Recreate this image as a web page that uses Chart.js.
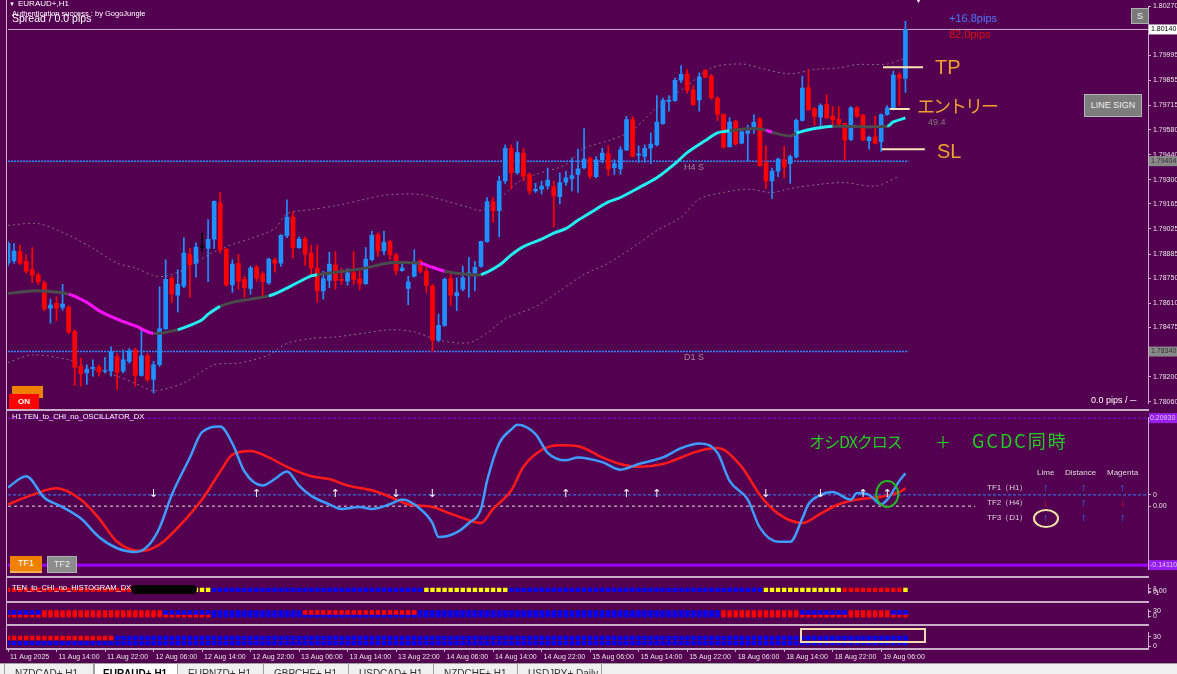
<!DOCTYPE html>
<html><head><meta charset="utf-8">
<script src="https://cdn.jsdelivr.net/npm/chart.js@4.4.1/dist/chart.umd.min.js"></script>
<style>
*{box-sizing:border-box}
html,body{margin:0;padding:0;width:1177px;height:674px;overflow:hidden;background:#540050;font-family:'Liberation Sans','DejaVu Sans',sans-serif;color:#fff}
canvas{position:absolute;left:0}
.t{position:absolute;white-space:nowrap;line-height:1}
.ln{position:absolute;background:#c9aec9}
.btn{position:absolute;display:flex;align-items:center;justify-content:center;line-height:1}
.jp{font-family:'Noto Sans CJK JP','Noto Sans',sans-serif}
.tab{position:absolute;top:664px;height:10px;border-right:1px solid #a0a0a0;font-size:10px;color:#333;padding-left:10px;padding-top:5px;overflow:hidden;white-space:nowrap;line-height:1}
</style></head><body>
<canvas id="cMain" width="1177" height="410" style="top:0"></canvas>
<canvas id="cOsc" width="1177" height="165" style="top:411px"></canvas>
<canvas id="cH1" width="1177" height="22" style="top:578px"></canvas>
<canvas id="cH2" width="1177" height="21" style="top:603px"></canvas>
<canvas id="cH3" width="1177" height="37" style="top:626px"></canvas>

<!-- panel separators / frame -->
<div class="ln" style="left:7px;top:409px;width:1142px;height:2px"></div>
<div class="ln" style="left:7px;top:576px;width:1142px;height:2px"></div>
<div class="ln" style="left:7px;top:601px;width:1142px;height:2px"></div>
<div class="ln" style="left:7px;top:624px;width:1142px;height:2px"></div>
<div class="ln" style="left:6px;top:0;width:1px;height:650px"></div>

<!-- titles -->
<div class="t" style="left:9px;top:1px;font-size:6px">▼</div>
<div class="t" style="left:18px;top:0px;font-size:8px">EURAUD+,H1</div>
<div class="t" style="left:12px;top:10px;font-size:7.5px">Authentication success : by GogoJungle</div>
<div class="t" style="left:12px;top:13px;font-size:10.5px">Spread / 0.0 pips</div>
<div class="t" style="left:915px;top:-3px;font-size:7px">▼</div>

<!-- trade annotations -->
<div class="t" style="left:949px;top:13px;font-size:11px;color:#4a78ff">+16.8pips</div>
<div class="t" style="left:949px;top:29px;font-size:11px;color:#e01010">82.0pips</div>
<div class="t" style="left:935px;top:57px;font-size:20px;color:#f0a030">TP</div>
<div class="t jp" style="left:917px;top:96px;font-size:18px;color:#f0a030;letter-spacing:-2px">エントリー</div>
<div class="t" style="left:937px;top:141px;font-size:20px;color:#f0a030">SL</div>
<div class="t" style="left:928px;top:118px;font-size:9px;color:#7e7e7e">49.4</div>
<div class="t" style="left:1091px;top:396px;font-size:9px">0.0 pips / ─</div>

<!-- buttons -->
<div class="btn" style="left:1131px;top:8px;width:18px;height:16px;background:#7a7a7a;border:1px solid #b0b0b0;font-size:9px;color:#eee">S</div>
<div class="btn" style="left:1084px;top:94px;width:58px;height:23px;background:#7d7d7d;border:1px solid #b5b5b5;font-size:9px;color:#eee">LINE SIGN</div>
<div class="btn" style="left:12px;top:386px;width:31px;height:12px;background:#f08000"></div>
<div class="btn" style="left:9px;top:394px;width:30px;height:15px;background:#ff0000;font-size:8px;font-weight:bold;color:#fff">ON</div>

<!-- oscillator texts -->
<div class="t" style="left:12px;top:413px;font-size:7.5px">H1 TEN_to_CHI_no_OSCILLATOR_DX</div>
<div class="t jp" style="left:809px;top:433px;font-size:16px;color:#22cc22;letter-spacing:-1px">オシDXクロス</div>
<div class="t jp" style="left:935px;top:433px;font-size:16px;color:#22cc22">＋</div>
<div class="t jp" style="left:972px;top:431px;font-size:18px;color:#22cc22;letter-spacing:2px">GCDC同時</div>
<div class="t" style="left:1037px;top:469px;font-size:8px;color:#ddd">Lime</div>
<div class="t" style="left:1065px;top:469px;font-size:8px;color:#ddd">Distance</div>
<div class="t" style="left:1107px;top:469px;font-size:8px;color:#ddd">Magenta</div>
<div class="t" style="left:987px;top:484px;font-size:8px;color:#ddd">TF1（H1）</div>
<div class="t" style="left:987px;top:499px;font-size:8px;color:#ddd">TF2（H4）</div>
<div class="t" style="left:987px;top:514px;font-size:8px;color:#ddd">TF3（D1）</div>
<div class="t" style="left:1043px;top:482px;font-size:11px;font-weight:bold;color:#2a6cf0">↑</div>
<div class="t" style="left:1081px;top:482px;font-size:11px;font-weight:bold;color:#2a6cf0">↑</div>
<div class="t" style="left:1120px;top:482px;font-size:11px;font-weight:bold;color:#2a6cf0">↑</div>
<div class="t" style="left:1043px;top:497px;font-size:11px;font-weight:bold;color:#e0101e">↓</div>
<div class="t" style="left:1081px;top:497px;font-size:11px;font-weight:bold;color:#2a6cf0">↑</div>
<div class="t" style="left:1120px;top:497px;font-size:11px;font-weight:bold;color:#e0101e">↓</div>
<div class="t" style="left:1043px;top:512px;font-size:11px;font-weight:bold;color:#2a6cf0">↑</div>
<div class="t" style="left:1081px;top:512px;font-size:11px;font-weight:bold;color:#2a6cf0">↑</div>
<div class="t" style="left:1120px;top:512px;font-size:11px;font-weight:bold;color:#2a6cf0">↑</div>
<div style="position:absolute;left:1033px;top:509px;width:26px;height:19px;border:2px solid #f3e3a6;border-radius:50%"></div>
<div class="btn" style="left:10px;top:556px;width:32px;height:17px;background:#f08000;border-bottom:2px solid #ffb050;font-size:9px;color:#fff">TF1</div>
<div class="btn" style="left:47px;top:556px;width:30px;height:17px;background:#8c8c8c;border:1px solid #b0b0b0;font-size:9px;color:#eee">TF2</div>

<!-- histogram texts -->
<div class="t" style="left:12px;top:584px;font-size:7.5px">TEN_to_CHI_no_HISTOGRAM_DX_5</div>
<div style="position:absolute;left:131px;top:585px;width:66px;height:9px;background:#000;border-radius:5px"></div>
<div style="position:absolute;left:800px;top:628px;width:126px;height:15px;border:2px solid #f0dcae"></div>

<!-- tab bar -->
<div style="position:absolute;left:0;top:663px;width:1177px;height:11px;background:#f0f0f0;border-top:1px solid #a0a0a0"></div>
<div class="tab" style="left:4px;width:90px;border-left:1px solid #a0a0a0">NZDCAD+,H1</div>
<div class="tab" style="left:94px;top:663px;width:84px;height:11px;background:#fff;border:1px solid #a0a0a0;border-bottom:none;font-weight:bold;color:#000;padding-left:8px">EURAUD+,H1</div>
<div class="tab" style="left:178px;width:86px">EURNZD+,H1</div>
<div class="tab" style="left:264px;width:85px">GBPCHF+,H1</div>
<div class="tab" style="left:349px;width:85px">USDCAD+,H1</div>
<div class="tab" style="left:434px;width:84px">NZDCHF+,H1</div>
<div class="tab" style="left:518px;width:84px">USDJPY+,Daily</div>

<script>
// ---------------- DATA ----------------
const timeTickIdx = [0,8,16,24,32,40,48,56,64,72,80,88,96,104,112,120,128,136,144];
const timeTickLabels = ['11 Aug 2025','11 Aug 14:00','11 Aug 22:00','12 Aug 06:00','12 Aug 14:00','12 Aug 22:00','13 Aug 06:00','13 Aug 14:00','13 Aug 22:00','14 Aug 06:00','14 Aug 14:00','14 Aug 22:00','15 Aug 06:00','15 Aug 14:00','15 Aug 22:00','18 Aug 06:00','18 Aug 14:00','18 Aug 22:00','19 Aug 06:00'];
const priceTicks = [1.80270,1.79995,1.79855,1.79715,1.79580,1.79440,1.79300,1.79165,1.79025,1.78885,1.78750,1.78610,1.78475,1.78200,1.78060];

const opens = [1.78834,1.78847,1.78899,1.78844,1.78798,1.78767,1.78724,1.78583,1.78609,1.78587,
1.78587,1.78453,1.78257,1.78220,1.78246,1.78253,1.78230,1.78230,1.78312,1.78230,
1.78285,1.78349,1.78206,1.78316,1.78184,1.78266,1.78468,1.78748,1.78655,1.78706,
1.78884,1.78834,1.78924,1.78917,1.78968,1.79170,1.78912,1.78712,1.78831,1.78743,
1.78693,1.78811,1.78774,1.78724,1.78853,1.78834,1.78987,1.79091,1.78921,1.78968,
1.78890,1.78807,1.78679,1.78737,1.78825,1.78743,1.78734,1.78780,1.78747,1.78719,
1.78853,1.78994,1.78902,1.78954,1.78880,1.78792,1.78693,1.78761,1.78847,1.78789,
1.78706,1.78404,1.78486,1.78748,1.78651,1.78688,1.78770,1.78780,1.78816,1.78954,
1.79177,1.79128,1.79293,1.79476,1.79339,1.79449,1.79330,1.79238,1.79247,1.79265,
1.79262,1.79205,1.79287,1.79306,1.79330,1.79366,1.79421,1.79317,1.79412,1.79445,
1.79368,1.79361,1.79467,1.79636,1.79438,1.79430,1.79476,1.79495,1.79614,1.79738,
1.79742,1.79856,1.79892,1.79801,1.79746,1.79911,1.79880,1.79757,1.79665,1.79485,
1.79627,1.79504,1.79559,1.79586,1.79641,1.79394,1.79293,1.79348,1.79412,1.79390,
1.79427,1.79632,1.79815,1.79696,1.79650,1.79720,1.79654,1.79638,1.79614,1.79526,
1.79702,1.79661,1.79518,1.79540,1.79513,1.79665,1.79696,1.79885,1.79867];
const highs = [1.78956,1.78944,1.78935,1.78880,1.78921,1.78780,1.78734,1.78633,1.78646,1.78715,
1.78596,1.78462,1.78303,1.78266,1.78294,1.78266,1.78308,1.78367,1.78330,1.78349,
1.78358,1.78358,1.78468,1.78330,1.78285,1.78701,1.78853,1.78761,1.78798,1.78976,
1.78917,1.78948,1.79003,1.79077,1.79183,1.79229,1.78917,1.78853,1.78884,1.78761,
1.78816,1.78822,1.78785,1.78862,1.78862,1.78994,1.79188,1.79119,1.78981,1.78981,
1.78935,1.78935,1.78789,1.78895,1.78899,1.78803,1.78803,1.78899,1.78789,1.78921,
1.79012,1.79005,1.79012,1.78963,1.78890,1.78844,1.78761,1.78908,1.78853,1.78829,
1.78715,1.78550,1.78752,1.78789,1.78752,1.78816,1.78866,1.78844,1.78957,1.79201,
1.79201,1.79320,1.79495,1.79495,1.79513,1.79476,1.79339,1.79280,1.79293,1.79366,
1.79293,1.79339,1.79348,1.79421,1.79471,1.79586,1.79427,1.79430,1.79476,1.79489,
1.79412,1.79485,1.79654,1.79654,1.79489,1.79495,1.79562,1.79770,1.79757,1.79770,
1.79870,1.79938,1.79916,1.79825,1.79898,1.79916,1.79889,1.79764,1.79669,1.79647,
1.79632,1.79573,1.79605,1.79665,1.79647,1.79489,1.79366,1.79421,1.79485,1.79440,
1.79641,1.79880,1.79916,1.79705,1.79724,1.79775,1.79709,1.79709,1.79617,1.79709,
1.79709,1.79665,1.79544,1.79654,1.79669,1.79715,1.79907,1.79898,1.80186];
const lows = [1.78818,1.78834,1.78825,1.78780,1.78725,1.78715,1.78569,1.78499,1.78514,1.78571,
1.78440,1.78151,1.78147,1.78156,1.78202,1.78202,1.78220,1.78202,1.78129,1.78220,
1.78275,1.78147,1.78202,1.78175,1.78107,1.78257,1.78462,1.78615,1.78560,1.78697,
1.78642,1.78756,1.78899,1.78730,1.78917,1.78890,1.78706,1.78670,1.78688,1.78642,
1.78660,1.78734,1.78651,1.78715,1.78785,1.78816,1.78976,1.78862,1.78917,1.78822,
1.78761,1.78615,1.78633,1.78697,1.78688,1.78715,1.78710,1.78715,1.78684,1.78715,
1.78847,1.78871,1.78880,1.78853,1.78770,1.78789,1.78602,1.78756,1.78780,1.78670,
1.78340,1.78395,1.78481,1.78596,1.78569,1.78679,1.78642,1.78679,1.78811,1.78950,
1.79064,1.78981,1.79280,1.79247,1.79330,1.79293,1.79220,1.79229,1.79220,1.79247,
1.79036,1.79165,1.79269,1.79238,1.79229,1.79361,1.79306,1.79311,1.79394,1.79324,
1.79330,1.79330,1.79463,1.79427,1.79397,1.79397,1.79390,1.79489,1.79610,1.79683,
1.79738,1.79843,1.79782,1.79715,1.79683,1.79870,1.79751,1.79632,1.79476,1.79482,
1.79495,1.79500,1.79403,1.79559,1.79375,1.79251,1.79196,1.79317,1.79311,1.79280,
1.79421,1.79628,1.79687,1.79605,1.79599,1.79641,1.79595,1.79599,1.79412,1.79518,
1.79650,1.79518,1.79471,1.79500,1.79458,1.79660,1.79691,1.79715,1.79788];
const closes = [1.78945,1.78902,1.78834,1.78789,1.78765,1.78730,1.78578,1.78600,1.78583,1.78605,
1.78450,1.78253,1.78217,1.78242,1.78252,1.78226,1.78231,1.78340,1.78224,1.78294,
1.78345,1.78206,1.78316,1.78184,1.78266,1.78468,1.78743,1.78660,1.78715,1.78890,
1.78825,1.78924,1.78924,1.78967,1.79179,1.78908,1.78712,1.78829,1.78734,1.78697,
1.78807,1.78748,1.78730,1.78857,1.78834,1.78990,1.79091,1.78921,1.78968,1.78884,
1.78807,1.78679,1.78748,1.78829,1.78737,1.78737,1.78780,1.78743,1.78719,1.78857,
1.78990,1.78902,1.78950,1.78880,1.78792,1.78807,1.78730,1.78840,1.78789,1.78710,
1.78404,1.78486,1.78743,1.78655,1.78670,1.78752,1.78780,1.78811,1.78954,1.79177,
1.79128,1.79293,1.79476,1.79339,1.79452,1.79320,1.79238,1.79247,1.79265,1.79298,
1.79210,1.79284,1.79311,1.79324,1.79361,1.79416,1.79320,1.79412,1.79449,1.79361,
1.79390,1.79467,1.79636,1.79430,1.79441,1.79476,1.79500,1.79623,1.79742,1.79746,
1.79856,1.79889,1.79801,1.79720,1.79874,1.79874,1.79757,1.79665,1.79482,1.79623,
1.79500,1.79568,1.79573,1.79623,1.79379,1.79293,1.79348,1.79416,1.79372,1.79430,
1.79632,1.79812,1.79691,1.79654,1.79715,1.79647,1.79636,1.79614,1.79522,1.79702,
1.79654,1.79522,1.79537,1.79504,1.79665,1.79702,1.79885,1.79867,1.80140];

// moving average (bar index, value, trend of segment starting there: g grey, m magenta, c cyan)
const maIdx = [0,4,7,10,13,15,18,21,24,28,30,32,33,35,37,40,43,45,48,50,51,54,56,59,62,64,68,70,72,76,78,81,83,85,88,90,92,94,96,99,101,104,107,110,112,115,117,119,123,125,126,129,130,133,136,145,146,148];
const maVal = [1.78664,1.78679,1.78675,1.78661,1.78615,1.78569,1.78521,1.78483,1.78441,1.78462,1.78486,1.78518,1.78549,1.78593,1.78615,1.78633,1.78651,1.78678,1.78730,1.78763,1.78769,1.78783,1.78792,1.78807,1.78831,1.78838,1.78834,1.78811,1.78789,1.78770,1.78770,1.78822,1.78880,1.78926,1.78968,1.79002,1.79027,1.79074,1.79115,1.79176,1.79201,1.79255,1.79311,1.79390,1.79452,1.79519,1.79562,1.79574,1.79586,1.79577,1.79566,1.79544,1.79561,1.79586,1.79599,1.79599,1.79623,1.79646];
const maTrend = 'gggmmmmmgccccgggccccggggggmmggcccccccccccccccccggmggccgccc'.split('');

// envelope bands
const upIdx = [0,5,10,14,18,21,24,26,29,33,36,40,44,46,50,54,59,62,68,72,76,78,81,84,87,92,95,99,103,107,112,116,121,125,129,133,137,140,145,148];
const upVal = [1.79045,1.79055,1.78990,1.78917,1.78834,1.78807,1.78765,1.78761,1.78798,1.78880,1.78926,1.78972,1.79027,1.79110,1.79133,1.79155,1.79192,1.79214,1.79218,1.79183,1.79146,1.79128,1.79192,1.79284,1.79330,1.79385,1.79476,1.79518,1.79577,1.79705,1.79825,1.79925,1.79947,1.79916,1.79892,1.79916,1.79925,1.79944,1.79947,1.79980];
const dnIdx = [0,4,10,14,18,22,24,29,34,38,43,46,50,54,59,63,67,71,76,79,82,87,91,95,99,104,107,111,114,118,122,126,129,134,138,143,147];
const dnVal = [1.78279,1.78321,1.78294,1.78242,1.78202,1.78147,1.78120,1.78165,1.78266,1.78275,1.78321,1.78385,1.78413,1.78422,1.78444,1.78462,1.78450,1.78404,1.78389,1.78444,1.78523,1.78591,1.78679,1.78770,1.78834,1.78944,1.79016,1.79091,1.79192,1.79229,1.79247,1.79229,1.79251,1.79275,1.79284,1.79265,1.79320];

// support levels & trade lines
const levelVals = [1.79404, 1.78340];
const levelNames = ['H4 S', 'D1 S'];
const levelEndIdx = 148.5;
const levelLabelIdx = 111.5;
const bidPrice = 1.80140;
const tradeVals = [1.79929, 1.79696, 1.79471];
const tradeFrom = [144.3, 145.4, 144.1];
const tradeTo = [150.9, 148.7, 151.2];
const axisBoxVals = [1.80140, 1.79404, 1.78340];

// oscillator
const blueIdx = [0,3,6,9,12,15,18,21,23,25,27,30,32,35,37,39,42,44,46,48,50,53,55,58,60,63,65,68,70,71,74,76,78,79,81,83,84,87,89,92,94,98,101,104,108,111,114,117,119,122,124,127,129,131,132,134,136,139,140,142,144,145,147,148];
const blueVal = [0.0441,0.0706,0.0198,-0.0022,-0.0287,-0.0728,-0.0992,-0.1080,-0.0948,-0.0507,0.0265,0.1147,0.1742,0.1874,0.1477,0.0816,0.0485,0.0639,0.0816,0.0485,0.0243,0.0044,-0.0066,-0.0022,-0.0066,0.0044,0.0154,-0.0066,-0.0397,-0.0728,-0.0617,-0.0397,-0.0066,0.0595,0.1477,0.1808,0.1918,0.1698,0.1257,0.1080,0.1147,0.1036,0.0860,0.0992,0.1147,0.1367,0.1477,0.1257,0.0595,0.0154,-0.0507,-0.0838,-0.0838,-0.0287,0.0044,0.0265,0.0331,0.0154,0.0309,0.0265,0.0044,0.0154,0.0595,0.0772];
const redIdx = [0,4,8,12,15,18,22,25,28,32,35,37,40,43,46,50,53,56,60,63,66,70,73,76,78,80,83,85,88,91,94,98,101,104,108,111,114,117,121,124,127,131,134,137,140,144,147,148];
const redVal = [0.0044,0.0265,0.0419,0.0154,-0.0287,-0.0838,-0.1058,-0.0904,-0.0507,0.0154,0.0816,0.1213,0.1301,0.1147,0.0926,0.0706,0.0639,0.0485,0.0375,0.0221,0.0044,-0.0022,-0.0176,-0.0331,-0.0397,-0.0066,0.0375,0.0926,0.1323,0.1433,0.1411,0.1147,0.0992,0.0926,0.0992,0.1147,0.1301,0.1367,0.0926,0.0265,-0.0176,-0.0397,-0.0176,0.0044,0.0154,0.0221,0.0331,0.0419];
const arrowIdx = [24,41,54,64,70,92,102,107,125,134,141,145];
const arrowDir = ['d','u','u','d','d','u','u','u','d','d','u','u'];
const arrowLevel = 0.0287;
const crossIdx = 145, crossVal = 0.0287;
const oscTickVals = [0.0265, 0];
const oscTickLabels = ['0', '0.00'];
const oscZeroA = 0.0265, oscZeroB = 0, oscZeroBEnd = 159.5;
const oscFloor = -0.1389, oscCeil = 0.2073;

// histograms: runs of [colour, count] per row
const h1Runs = [['R',30],['Y',4],['B',35],['Y',14],['B',42],['Y',13],['R',10],['Y',1]];
const h2aRuns = [['B',6],['R',20],['B',23],['R',19],['B',50],['R',13],['B',8],['R',7],['B',3]];
const h2bRuns = [['R',34],['B',84],['R',31]];
const h3aRuns = [['R',18],['B',131]];
const h3bRuns = [['B',149]];

// ---------------- RENDER ----------------
Chart.defaults.font.family = "'Liberation Sans','DejaVu Sans',sans-serif";
const FRAME = '#c9aec9';
const TXT = '#e6e6e6';
const SLOT_MAX = 188;
const hcol = {R:'#ff0000', B:'#0000ff', Y:'#ffff00'};
const trendCol = {g:'#4b4b4b', m:'#ff10ff', c:'#22eef0'};
const expand = runs => runs.flatMap(([c,n]) => Array(n).fill(hcol[c]));
const base = {responsive:false, animation:false, devicePixelRatio:1, events:[],
  plugins:{legend:{display:false}, tooltip:{enabled:false}}};
const xHidden = {type:'linear', min:0, max:SLOT_MAX, display:false, offset:false};
function yAxis(min, max, ticks, labels, extra) {
  return Object.assign({position:'right', min, max, bounds:'data',
    afterFit(s){ s.width = 29; },
    afterBuildTicks(s){ s.ticks = ticks.map(v => ({value:v})); },
    ticks:{color:TXT, font:{size:7}, padding:2, autoSkip:false,
      callback:(v,i) => labels ? labels[i] : Number(v).toFixed(5)},
    grid:{drawOnChartArea:false, tickLength:3, color:FRAME},
    border:{display:true, color:FRAME, width:1}}, extra || {});
}
const hLine = (x0, x1, v, color, width, dash, order) => ({type:'line',
  data:[{x:x0,y:v},{x:x1,y:v}], borderColor:color, borderWidth:width, borderDash:dash || [],
  pointRadius:0, order});

// main price chart
const candleCol = closes.map((c,i) => c > opens[i] ? '#1e90ff' : (c < opens[i] ? '#ff0000' : '#000000'));
const mainMarks = {id:'mainMarks', afterDraw(ch){
  const {ctx, scales:{x, y}} = ch;
  ctx.save();
  ctx.font = "9px 'Liberation Sans'"; ctx.fillStyle = '#9b8a9b'; ctx.textBaseline = 'middle';
  levelVals.forEach((v,k) => ctx.fillText(levelNames[k], x.getPixelForValue(levelLabelIdx), y.getPixelForValue(v) + 6));
  const bg = ['#ffffff','#8a8a8a','#8a8a8a'], fg = ['#000000','#303030','#303030'];
  ctx.font = "7px 'Liberation Sans'";
  axisBoxVals.forEach((v,k) => {
    const py = y.getPixelForValue(v);
    ctx.fillStyle = bg[k]; ctx.fillRect(y.left + 1, py - 5, 28, 10);
    ctx.fillStyle = fg[k]; ctx.fillText(v.toFixed(5), y.left + 3, py);
  });
  ctx.restore();
}};
new Chart(document.getElementById('cMain'), {
  type:'bar',
  data:{datasets:[
    {type:'line', data:upIdx.map((i,k)=>({x:i,y:upVal[k]})), borderColor:'#8d6a8d', borderWidth:1, borderDash:[2,3], pointRadius:0, tension:0.3, order:10},
    {type:'line', data:dnIdx.map((i,k)=>({x:i,y:dnVal[k]})), borderColor:'#8d6a8d', borderWidth:1, borderDash:[2,3], pointRadius:0, tension:0.3, order:10},
    hLine(0, levelEndIdx, levelVals[0], '#2f86ff', 1.5, [2,1], 9),
    hLine(0, levelEndIdx, levelVals[1], '#2f86ff', 1.5, [2,1], 9),
    hLine(0, SLOT_MAX, bidPrice, FRAME, 1, [], 9),
    {type:'bar', data:lows.map((l,i)=>({x:i,y:[l,highs[i]]})), backgroundColor:candleCol, barThickness:1, grouped:false, order:6},
    {type:'bar', data:opens.map((o,i)=>({x:i,y:[o,closes[i]]})), backgroundColor:candleCol, barThickness:4, grouped:false, minBarLength:1, order:5},
    {type:'line', data:maIdx.map((i,k)=>({x:i,y:maVal[k]})), borderWidth:3, pointRadius:0, tension:0.3,
      borderColor:trendCol.c, segment:{borderColor: c => trendCol[maTrend[c.p0DataIndex]]}, order:4},
    hLine(tradeFrom[0], tradeTo[0], tradeVals[0], '#ffe4b5', 2, [], 3),
    hLine(tradeFrom[1], tradeTo[1], tradeVals[1], '#ffe4b5', 2, [], 3),
    hLine(tradeFrom[2], tradeTo[2], tradeVals[2], '#ffe4b5', 2, [], 3)
  ]},
  options:Object.assign({}, base, {
    layout:{padding:{left:8, top:4, bottom:2, right:0}},
    scales:{x:xHidden, y:yAxis(1.78048, 1.80270, priceTicks, null)}
  }),
  plugins:[mainMarks]
});

// oscillator
const oscMarks = {id:'oscMarks', afterDatasetsDraw(ch){
  const {ctx, scales:{x, y}} = ch;
  ctx.save();
  ctx.fillStyle = '#ffffff'; ctx.font = "11px 'DejaVu Sans'"; ctx.textAlign = 'center'; ctx.textBaseline = 'middle';
  arrowIdx.forEach((i,k) => ctx.fillText(arrowDir[k] === 'u' ? '↑' : '↓', x.getPixelForValue(i), y.getPixelForValue(arrowLevel)));
  ctx.strokeStyle = '#22bb22'; ctx.lineWidth = 2; ctx.beginPath();
  ctx.ellipse(x.getPixelForValue(crossIdx), y.getPixelForValue(crossVal), 11, 13, 0, 0, Math.PI * 2); ctx.stroke();
  ctx.restore();
}, afterDraw(ch){
  const {ctx, scales:{y}} = ch;
  ctx.save(); ctx.font = "7px 'Liberation Sans'"; ctx.textBaseline = 'middle';
  [[oscCeil, '0.20930'], [oscFloor, '-0.14110']].forEach(([v, s]) => {
    const py = y.getPixelForValue(v);
    ctx.fillStyle = '#9a1ef0'; ctx.fillRect(y.left + 1, py - 5, 28, 10);
    ctx.fillStyle = '#d8c8e8'; ctx.fillText(s, y.left + 2, py);
  });
  ctx.restore();
}};
new Chart(document.getElementById('cOsc'), {
  type:'line',
  data:{datasets:[
    hLine(0, SLOT_MAX, oscZeroA, '#2f86ff', 1, [3,2], 9),
    hLine(0, oscZeroBEnd, oscZeroB, '#e0e0e0', 1, [3,3], 9),
    hLine(0, SLOT_MAX, oscCeil, '#9a00ff', 1, [3,2], 9),
    hLine(0, SLOT_MAX, oscFloor, '#9a00ff', 3, [], 2),
    {data:redIdx.map((i,k)=>({x:i,y:redVal[k]})), borderColor:'#ff1a1a', borderWidth:2.5, pointRadius:0, cubicInterpolationMode:'monotone', order:5},
    {data:blueIdx.map((i,k)=>({x:i,y:blueVal[k]})), borderColor:'#3f9cff', borderWidth:2.5, pointRadius:0, cubicInterpolationMode:'monotone', order:4}
  ]},
  options:Object.assign({}, base, {
    layout:{padding:{left:8, top:1, bottom:1, right:0}},
    scales:{x:xHidden, y:yAxis(-0.1499, 0.2095, oscTickVals, oscTickLabels)}
  }),
  plugins:[oscMarks]
});

// histograms
function histChart(id, rows, rowVals, tickVals, tickLabels, min, max, showTime) {
  const datasets = rows.map((runs, r) => ({type:'line', showLine:false,
    data:expand(runs).map((_, i) => ({x:i, y:rowVals[r]})),
    pointStyle:'rect', pointRadius:3.1, pointBorderWidth:0,
    pointBackgroundColor:expand(runs)}));
  const x = showTime ? {type:'linear', min:0, max:SLOT_MAX, offset:false, position:'bottom',
      afterFit(s){ s.height = 14; },
      afterBuildTicks(s){ s.ticks = timeTickIdx.map(v => ({value:v})); },
      ticks:{color:TXT, font:{size:7}, padding:1, align:'start', labelOffset:2, maxRotation:0, autoSkip:false,
        callback:(v,i) => timeTickLabels[i]},
      grid:{drawOnChartArea:false, tickLength:3, color:FRAME},
      border:{display:true, color:FRAME, width:2}} : xHidden;
  new Chart(document.getElementById(id), {type:'line', data:{datasets},
    options:Object.assign({}, base, {
      layout:{padding:{left:8, top:0, bottom:0, right:0}},
      scales:{x, y:yAxis(min, max, tickVals, tickLabels)}
    })});
}
histChart('cH1', [h1Runs], [9], [12, 6, 2], ['1', '0.00', '-1'], 0, 22, false);
histChart('cH2', [h2aRuns, h2bRuns], [13, 6], [16, 4], ['30', '0'], 0, 21, false);
histChart('cH3', [h3aRuns, h3bRuns], [15, 8], [17, 4], ['30', '0'], 0, 23, true);
</script>
</body></html>
